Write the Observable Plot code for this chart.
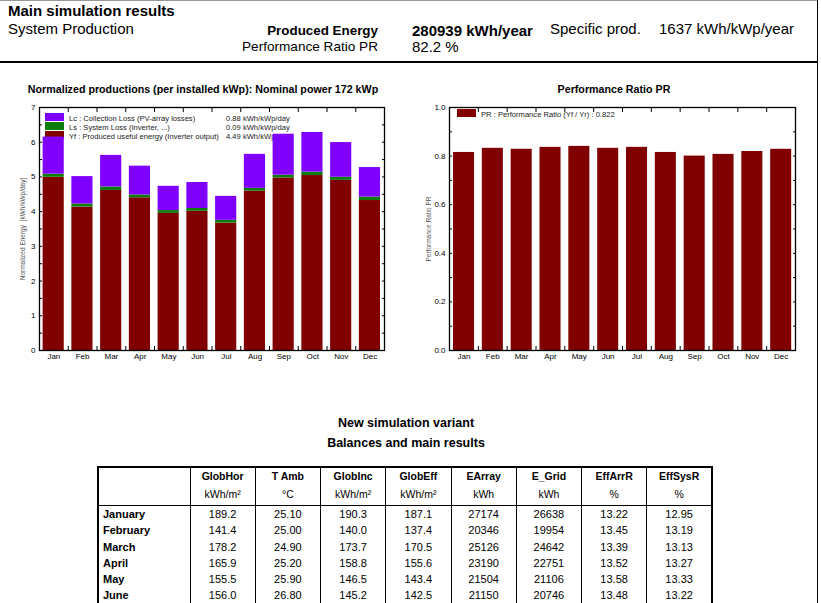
<!DOCTYPE html>
<html><head><meta charset="utf-8">
<script src="https://cdn.jsdelivr.net/npm/d3@7"></script>
<script src="https://cdn.jsdelivr.net/npm/@observablehq/plot@0.6"></script>
<style>
html,body{margin:0;padding:0;background:#fff;}
#page{position:relative;width:821px;height:603px;overflow:hidden;font-family:"Liberation Sans",Arial,sans-serif;color:#000;}
.t{position:absolute;white-space:nowrap;line-height:1;}
.b{font-weight:bold;}
.hline{position:absolute;left:0;width:818px;height:1px;background:#000;}
.vline{position:absolute;top:0;width:1px;height:603px;background:#000;}
.legend{position:absolute;z-index:0;font-size:7.6px;color:#222;}
.legend .row{position:absolute;white-space:nowrap;height:9px;line-height:9px;}
.legend .sw{position:absolute;width:19px;height:8px;}
.chart{position:absolute;z-index:1;}
table.res{position:absolute;left:97px;top:466px;border-collapse:collapse;table-layout:fixed;font-size:11px;border:2px solid #000;}
table.res td, table.res th{border-left:1px solid #000;border-right:1px solid #000;padding:0;text-align:center;overflow:hidden;white-space:nowrap;}
table.res th{font-size:10.5px;line-height:17.5px;padding-top:0px;padding-bottom:2px;border-bottom:1.5px solid #000;}
table.res td{height:16.3px;line-height:16.3px;}
table.res td.m{text-align:left;padding-left:4px;font-weight:bold;}
</style></head><body>
<div id="page"></div>
<script>
// ---------- data ----------
const months = ["Jan","Feb","Mar","Apr","May","Jun","Jul","Aug","Sep","Oct","Nov","Dec"];
// Normalized productions (kWh/kWp/day)
const yfValues = [4.99, 4.13, 4.61, 4.40, 3.95, 4.01, 3.67, 4.59, 4.97, 5.04, 4.90, 4.32];
const lsValues = [0.09, 0.09, 0.10, 0.08, 0.08, 0.08, 0.08, 0.08, 0.08, 0.10, 0.09, 0.10];
const lcValues = [1.07, 0.79, 0.91, 0.83, 0.70, 0.75, 0.69, 0.98, 1.18, 1.14, 1.00, 0.85];
// Performance ratio
const prValues = [0.815, 0.832, 0.828, 0.836, 0.840, 0.832, 0.836, 0.815, 0.800, 0.807, 0.819, 0.828];
const prodKeys = ["Lc","Ls","Yf"];
const prodColors = ["#8000ff","#0a7d0a","#800000"];
const prodLegendLabels = ["Lc : Collection Loss (PV-array losses)","Ls : System Loss  (Inverter, ...)","Yf : Produced useful energy  (Inverter output)"];
const prodLegendValues = ["0.88 kWh/kWp/day","0.09 kWh/kWp/day","4.49 kWh/kWp/day"];
const prodYTicks = [0,1,2,3,4,5,6,7];
const prTicks = [0,0.2,0.4,0.6,0.8,1.0];
// Table
const tableColumns = ["GlobHor","T Amb","GlobInc","GlobEff","EArray","E_Grid","EffArrR","EffSysR"];
const tableUnits = ["kWh/m²","°C","kWh/m²","kWh/m²","kWh","kWh","%","%"];
const tableDecimals = [1,2,1,1,0,0,2,2];
const tableMonths = ["January","February","March","April","May","June"];
const globHor = [189.2,141.4,178.2,165.9,155.5,156.0];
const tAmb = [25.10,25.00,24.90,25.20,25.90,26.80];
const globInc = [190.3,140.0,173.7,158.8,146.5,145.2];
const globEff = [187.1,137.4,170.5,155.6,143.4,142.5];
const eArray = [27174,20346,25126,23190,21504,21150];
const eGrid = [26638,19954,24642,22751,21106,20746];
const effArrR = [13.22,13.45,13.39,13.52,13.58,13.48];
const effSysR = [12.95,13.19,13.13,13.27,13.33,13.22];

// ---------- page ----------
const page = document.getElementById("page");
function addText(txt, left, top, size, bold, extra) {
  const d = document.createElement("div");
  d.className = "t" + (bold ? " b" : "");
  d.textContent = txt;
  d.style.left = left + "px"; d.style.top = top + "px"; d.style.fontSize = size + "px";
  if (extra) Object.assign(d.style, extra);
  page.appendChild(d);
  return d;
}
function addRight(txt, right, top, size, bold) {
  return addText(txt, 0, top, size, bold, {left: "auto", right: (821 - right) + "px"});
}
function addCenter(txt, cx, top, size, bold) {
  return addText(txt, cx - 200, top, size, bold, {width: "400px", textAlign: "center"});
}
// frame lines
const top0 = document.createElement("div"); top0.className = "hline"; top0.style.top = "0px"; top0.style.background = "#999"; page.appendChild(top0);
const hl = document.createElement("div"); hl.className = "hline"; hl.style.top = "61px"; hl.style.height = "1.5px"; page.appendChild(hl);
const vl = document.createElement("div"); vl.className = "vline"; vl.style.left = "817px"; page.appendChild(vl);

addText("Main simulation results", 8, 3, 15, true);
addText("System Production", 8, 21, 15, false);
addRight("Produced Energy", 378, 23.5, 13.4, true);
addText("280939 kWh/year", 412, 23, 15, true);
addText("Specific prod.", 550, 21, 15, false);
addText("1637 kWh/kWp/year", 659, 21, 15, false);
addRight("Performance Ratio PR", 378, 39.5, 13.6, false);
addText("82.2 %", 412, 39, 15, false);

addCenter("Normalized productions (per installed kWp):  Nominal power 172 kWp", 203, 84, 10.7, true);
addCenter("Performance Ratio PR", 614, 84, 10.7, true);

addCenter("New simulation variant", 406, 417, 12.5, true);
addCenter("Balances and main results", 406, 437, 12.5, true);

// legends (behind the charts)
function addLegend(left, top, keys, colors, labels, values, valueX) {
  const lg = document.createElement("div"); lg.className = "legend";
  lg.style.left = left + "px"; lg.style.top = top + "px";
  keys.forEach((k, i) => {
    const sw = document.createElement("div"); sw.className = "sw";
    sw.style.left = "0px"; sw.style.top = (i * 9) + "px"; sw.style.background = colors[i];
    lg.appendChild(sw);
    const r = document.createElement("div"); r.className = "row";
    r.style.left = "24px"; r.style.top = (i * 9 + 0.5) + "px"; r.textContent = labels[i];
    lg.appendChild(r);
    if (values) {
      const v = document.createElement("div"); v.className = "row";
      v.style.left = valueX + "px"; v.style.top = (i * 9 + 0.5) + "px"; v.textContent = values[i];
      lg.appendChild(v);
    }
  });
  page.appendChild(lg);
}
addLegend(45, 113, prodKeys, prodColors, prodLegendLabels, prodLegendValues, 181);
addLegend(457, 109, ["PR"], ["#800000"], ["PR : Performance Ratio (Yf / Yr) :  0.822"], null, 0);

// ---------- charts ----------
const font = {background: "transparent", fontFamily: "Liberation Sans, Arial, sans-serif", fontSize: "8px", color: "#000", overflow: "visible"};
const prodLong = months.flatMap((m, i) => [
  {i, month: m, key: "Yf", value: yfValues[i]},
  {i, month: m, key: "Ls", value: lsValues[i]},
  {i, month: m, key: "Lc", value: lcValues[i]}
]);
const boundaries = d3.range(1, months.length);
const centers = months.map((m, i) => i + 0.5);
const monthLabel = d => months[Math.floor(d)];

function frameAxes(yMinor, yMajor, yFormat, yLabel, yLabelDx) {
  return [
    Plot.frame({stroke: "#000", strokeWidth: 1.3}),
    Plot.axisY(yMajor, {anchor: "left", tickSize: 0, tickPadding: 4, tickFormat: yFormat, label: null, fontSize: 8}),
    Plot.axisY(yMinor, {anchor: "left", tickSize: 3, insetLeft: 3, tickFormat: () => "", label: null}),
    Plot.axisY(yMinor, {anchor: "right", tickSize: 3, insetRight: 3, tickFormat: () => "", label: null}),
    Plot.axisX(boundaries, {anchor: "bottom", tickSize: 4, insetBottom: 4, tickFormat: () => "", label: null}),
    Plot.axisX(boundaries, {anchor: "top", tickSize: 4, insetTop: 4, tickFormat: () => "", label: null}),
    Plot.axisX(centers, {anchor: "bottom", tickSize: 0, tickPadding: 3, tickFormat: monthLabel, label: null, fontSize: 8}),
    Plot.text([yLabel], {frameAnchor: "left", textAnchor: "middle", rotate: -90, dx: yLabelDx, fontSize: 6.5, fill: "#555", text: d => d})
  ];
}

const chart1 = Plot.plot({
  width: 400, height: 275,
  marginLeft: 39, marginRight: 16, marginTop: 11, marginBottom: 21,
  style: font,
  x: {domain: [0, 12]},
  y: {domain: [0, 7]},
  color: {domain: prodKeys, range: prodColors},
  marks: [
    Plot.rectY(prodLong, {x1: "i", x2: d => d.i + 1, y: "value", fill: "key", order: ["Yf","Ls","Lc"], insetLeft: 3.6, insetRight: 4}),
    ...frameAxes(d3.range(0, 7.01, 0.5), prodYTicks, d => String(d), "Normalized Energy  [kWh/kWp/day]", -17)
  ]
});
chart1.classList.add("chart");
chart1.style.left = "0px"; chart1.style.top = "96px";
page.appendChild(chart1);

const prData = months.map((m, i) => ({i, month: m, pr: prValues[i]}));
const chart2 = Plot.plot({
  width: 421, height: 275,
  marginLeft: 49, marginRight: 26, marginTop: 11, marginBottom: 21,
  style: font,
  x: {domain: [0, 12]},
  y: {domain: [0, 1]},
  marks: [
    Plot.rectY(prData, {x1: "i", x2: d => d.i + 1, y: "pr", fill: "#800000", insetLeft: 4, insetRight: 3.8}),
    ...frameAxes(d3.range(0, 1.001, 0.1), prTicks, d3.format(".1f"), "Performance Ratio PR", -21)
  ]
});
chart2.classList.add("chart");
chart2.style.left = "400px"; chart2.style.top = "96px";
page.appendChild(chart2);

// ---------- table ----------
const tbl = document.createElement("table"); tbl.className = "res";
const cg = document.createElement("colgroup");
[92, ...tableColumns.map(() => 65.25)].forEach(w => { const c = document.createElement("col"); c.style.width = w + "px"; cg.appendChild(c); });
tbl.appendChild(cg);
const thr = document.createElement("tr");
const th0 = document.createElement("th"); th0.innerHTML = "&nbsp;<br>&nbsp;"; thr.appendChild(th0);
tableColumns.forEach((c, j) => {
  const th = document.createElement("th");
  th.appendChild(document.createTextNode(c));
  th.appendChild(document.createElement("br"));
  const u = document.createElement("span"); u.style.fontWeight = "normal"; u.textContent = tableUnits[j];
  th.appendChild(u);
  thr.appendChild(th);
});
tbl.appendChild(thr);
const cols = [globHor, tAmb, globInc, globEff, eArray, eGrid, effArrR, effSysR];
tableMonths.forEach((m, r) => {
  const tr = document.createElement("tr");
  const td0 = document.createElement("td"); td0.className = "m"; td0.textContent = m; tr.appendChild(td0);
  cols.forEach((col, j) => {
    const td = document.createElement("td"); td.textContent = col[r].toFixed(tableDecimals[j]); tr.appendChild(td);
  });
  tbl.appendChild(tr);
});
page.appendChild(tbl);
</script>
</body></html>
